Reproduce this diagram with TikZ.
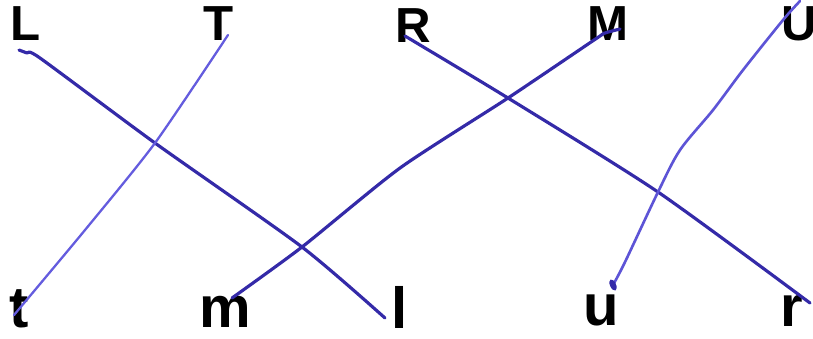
\documentclass[tikz,border=0pt]{standalone}
\usepackage{fontspec}
\setmainfont{Liberation Sans}
\usepackage{tikz}

\definecolor{inkdark}{RGB}{52,42,168}
\definecolor{inklight}{RGB}{100,92,222}

\begin{document}
\begin{tikzpicture}[x=0.01cm,y=-0.01cm,
  upper/.style={inner sep=0pt,font=\fontsize{14}{14}\selectfont\bfseries},
  lower/.style={inner sep=0pt,font=\fontsize{16.5}{16.5}\selectfont\bfseries},
  pen/.style={inkdark,line width=0.9pt,line cap=round,line join=round}]
\useasboundingbox (0,0) rectangle (813,338);
% top row
\node[upper] (L) at (26,24) {L};
\node[upper] (T) at (219,24) {T};
\node[upper] (R) at (413,26) {R};
\node[upper] (M) at (608,24) {M};
\node[upper] (U) at (799,24) {U};
% bottom row
\node[lower] (t) at (19,309) {t};
\node[lower] (m) at (225,312) {m};
\node[lower] (l) at (400,307) {l};
\node[lower] (u) at (601,310) {u};
\node[lower] (r) at (792,311) {r};
% pen strokes
\coordinate (L0) at ([shift={(-7,26)}]L.center);
\coordinate (l0) at ([shift={(-15,11)}]l.center);
\coordinate (T0) at ([shift={(9,11)}]T.center);
\coordinate (t0) at ([shift={(-5,6)}]t.center);
\coordinate (R0) at ([shift={(-8,10)}]R.center);
\coordinate (r0) at ([shift={(18,-8)}]r.center);
\coordinate (M0) at ([shift={(12,5)}]M.center);
\coordinate (m0) at ([shift={(7,-14)}]m.center);
\coordinate (U0) at ([shift={(1,-23)}]U.center);
\coordinate (u0) at ([shift={(12,-25)}]u.center);
\draw[pen] plot[smooth,tension=0.4] coordinates {(L0) (27,53) (40,58) (155,143) (302,247) (l0)};
\draw[pen,inklight,line width=0.65pt] plot[smooth,tension=0.4] coordinates {(T0) (155,143) (85,230) (t0)};
\draw[pen] plot[smooth,tension=0.4] coordinates {(R0) (508,98) (658,192) (r0)};
\draw[pen] plot[smooth,tension=0.4] coordinates {(M0) (605,33) (597,38) (508,98) (400,168) (302,247) (m0)};
\draw[pen,inklight!85!inkdark,line width=0.75pt] plot[smooth,tension=0.5] coordinates {(U0) (783,20) (743,70) (713,110) (680,150) (658,192) (625,262) (u0)};
\fill[inkdark] (u0) ellipse[x radius=3,y radius=6,rotate=25];
\end{tikzpicture}
\end{document}
